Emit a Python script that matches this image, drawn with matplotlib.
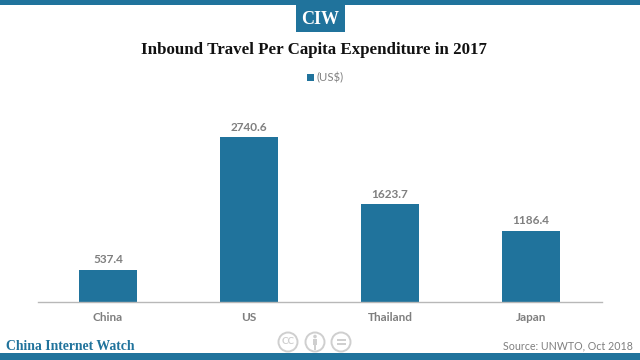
import matplotlib
matplotlib.use("Agg")
import matplotlib.pyplot as plt
from matplotlib.patches import Rectangle, Circle

categories = ["China", "US", "Thailand", "Japan"]
values = [537.4, 2740.6, 1623.7, 1186.4]
value_labels = ["537.4", "2740.6", "1623.7", "1186.4"]
series_name = "(US$)"
title = "Inbound Travel Per Capita Expenditure in 2017"
brand = "China Internet Watch"
source = "Source: UNWTO, Oct 2018"

BLUE = "#20739c"
GRAY = "#7f7f7f"

fig = plt.figure(figsize=(6.4, 3.6), dpi=100, facecolor="white")

# overlay in pixel coordinates for the page furniture
ov = fig.add_axes([0, 0, 1, 1], zorder=0)
ov.set_xlim(0, 640); ov.set_ylim(360, 0); ov.axis("off")
ov.add_patch(Rectangle((0, 0), 640, 4.5, color=BLUE, lw=0))
ov.add_patch(Rectangle((0, 353), 640, 7, color=BLUE, lw=0))
ov.add_patch(Rectangle((295.5, 4), 49, 28, color=BLUE, lw=0))
ov.text(320, 19, "CIW", color="white", ha="center", va="center",
        family="Liberation Serif", weight="bold", fontsize=13)
ov.text(313.5, 50, title, color="#111111", ha="center", va="center",
        family="Liberation Serif", weight="bold", fontsize=12.2)
ov.add_patch(Rectangle((307, 74), 7, 7, color=BLUE, lw=0))
ov.text(316.5, 78, series_name, color=GRAY, ha="left", va="center",
        family="Lato", fontsize=8.2)
ov.text(6, 346, brand, color=BLUE, ha="left", va="center",
        family="Liberation Serif", weight="bold", fontsize=9.9)
ov.text(633, 345.5, source, color=GRAY, ha="right", va="center",
        family="Lato", fontsize=7.7)

# Creative Commons marks
LIGHT = "#cfcfcf"
for cx in (288, 315, 341):
    ov.add_patch(Circle((cx, 342), 9.5, fill=False, ec=LIGHT, lw=1.4))
ov.text(288, 342, "CC", color=LIGHT, ha="center", va="center",
        family="Lato", weight="bold", fontsize=7)
ov.add_patch(Circle((315, 336.5), 1.8, color=LIGHT, lw=0))
ov.add_patch(Rectangle((312.6, 339), 4.8, 6, color=LIGHT, lw=0))
ov.add_patch(Rectangle((313.6, 345), 2.8, 4.5, color=LIGHT, lw=0))
ov.add_patch(Rectangle((336.5, 339.3), 9, 1.6, color=LIGHT, lw=0))
ov.add_patch(Rectangle((336.5, 343.2), 9, 1.6, color=LIGHT, lw=0))

# chart
ax = fig.add_axes([37.5 / 640, (360 - 302) / 360, 564 / 640, 200 / 360], zorder=1)
ax.patch.set_alpha(0)
x = range(len(categories))
bars = ax.bar(x, values, width=0.405, color=BLUE)
ax.set_xlim(-0.5, 3.5)
ax.set_ylim(0, 3322)
ax.set_xticks(list(x), categories)
ax.set_yticks([])
ax.tick_params(axis="x", length=0, pad=7, labelsize=8.5, labelcolor=GRAY)
for t in ax.get_xticklabels():
    t.set_family("Lato"); t.set_weight("bold")
for s in ("top", "left", "right"):
    ax.spines[s].set_visible(False)
ax.spines["bottom"].set_color("#b8b8b8")
ax.spines["bottom"].set_linewidth(1)
for b, lab in zip(bars, value_labels):
    ax.annotate(lab, (b.get_x() + b.get_width() / 2, b.get_height()),
                xytext=(0, 3), textcoords="offset points", ha="center", va="bottom",
                color=GRAY, family="Lato", weight="bold", fontsize=8.5)

fig.savefig("out.png", dpi=100)
